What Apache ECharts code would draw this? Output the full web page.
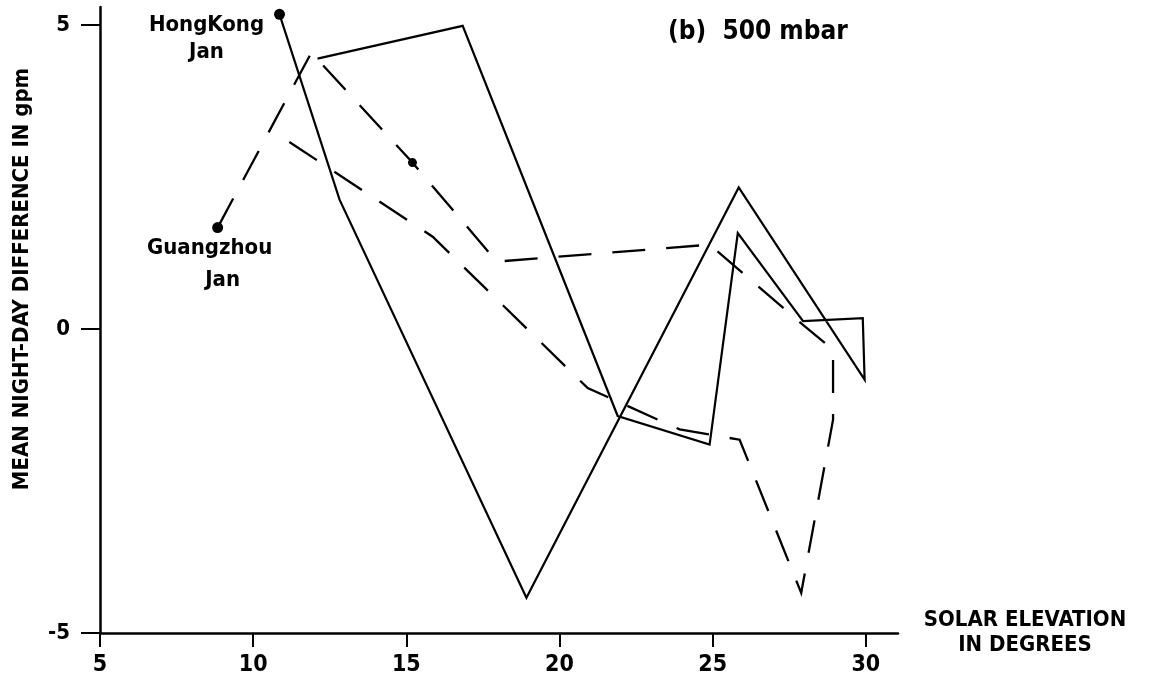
<!DOCTYPE html>
<html>
<head>
<meta charset="utf-8">
<script src="https://cdn.jsdelivr.net/npm/echarts@6/dist/echarts.min.js"></script>
<style>
  html, body { margin: 0; padding: 0; background: #ffffff; }
  #chart { width: 1149px; height: 679px; }
</style>
</head>
<body>
<div id="chart"></div>
<script>
// Axis ticks
const xTicks = [5, 10, 15, 20, 25, 30];
const yTicks = [-5, 0, 5];

// [solar elevation (deg), mean night-day difference (gpm)], in drawing order
const hongKongJan = [
  [10.86, 5.18], [12.82, 2.13], [18.92, -4.42], [25.85, 2.33], [29.96, -0.83],
  [29.90, 0.18], [27.95, 0.13], [25.82, 1.58], [24.90, -1.90], [21.90, -1.43],
  [16.84, 4.99], [12.10, 4.45]
];
const guangzhouJan = [
  [8.84, 1.67], [11.90, 4.55], [15.20, 2.74], [17.95, 1.11], [24.90, 1.39],
  [27.95, 0.07], [28.93, -0.34], [28.93, -1.49], [27.89, -4.34], [25.88, -1.82],
  [23.92, -1.65], [20.92, -0.97], [15.86, 1.52], [10.91, 3.17]
];
// small filled mark on the Guangzhou curve
const guangzhouMark = [[15.20, 2.74]];

const FONT = '"DejaVu Sans Condensed", "DejaVu Sans", sans-serif';
const INK = '#000000';

const chart = echarts.init(document.getElementById('chart'), null, { renderer: 'canvas' });

chart.setOption({
  backgroundColor: '#ffffff',
  animation: false,
  title: {
    text: '(b)  500 mbar',
    left: 668,
    top: 19,
    padding: 0,
    textStyle: { fontFamily: FONT, fontWeight: 'bold', fontSize: 26, color: INK }
  },
  grid: { left: 100, right: 251, top: 7, bottom: 46, containLabel: false, outerBoundsMode: 'none' },
  xAxis: {
    type: 'value',
    min: 5,
    max: 31.05,
    interval: 5,
    name: 'SOLAR ELEVATION\nIN DEGREES',
    nameLocation: 'end',
    nameGap: 127,
    nameTextStyle: {
      fontFamily: FONT, fontWeight: 'bold', fontSize: 22, color: INK,
      align: 'center', verticalAlign: 'middle', lineHeight: 25
    },
    splitLine: { show: false },
    axisLine: { show: true, onZero: false, lineStyle: { color: INK, width: 2.5 } },
    axisTick: { show: true, inside: false, length: 14, customValues: xTicks, lineStyle: { color: INK, width: 2 } },
    axisLabel: {
      customValues: xTicks,
      margin: 21,
      fontFamily: FONT, fontWeight: 'bold', fontSize: 23, color: INK
    }
  },
  yAxis: {
    type: 'value',
    min: -5,
    max: 5.3,
    interval: 5,
    name: 'MEAN NIGHT-DAY DIFFERENCE IN gpm',
    nameLocation: 'middle',
    nameRotate: 90,
    nameGap: 67,
    nameTextStyle: {
      fontFamily: FONT, fontWeight: 'bold', fontSize: 22, color: INK,
      padding: [0, 0, 0, 82]
    },
    splitLine: { show: false },
    axisLine: { show: true, onZero: false, lineStyle: { color: INK, width: 2.5 } },
    axisTick: { show: true, inside: false, length: 19, customValues: yTicks, lineStyle: { color: INK, width: 2 } },
    axisLabel: {
      customValues: yTicks,
      margin: 30,
      fontFamily: FONT, fontWeight: 'bold', fontSize: 22, color: INK
    }
  },
  series: [
    {
      name: 'HongKong Jan',
      type: 'line',
      data: hongKongJan,
      showSymbol: false,
      silent: true,
      lineStyle: { color: INK, width: 2.2, type: 'solid', join: 'miter' }
    },
    {
      name: 'Guangzhou Jan',
      type: 'line',
      data: guangzhouJan,
      showSymbol: false,
      silent: true,
      lineStyle: { color: INK, width: 2.3, type: [33, 21], join: 'miter' }
    },
    {
      name: 'Start points',
      type: 'scatter',
      silent: true,
      symbol: 'circle',
      symbolSize: 11,
      itemStyle: { color: INK, opacity: 1 },
      data: [
        {
          value: hongKongJan[0],
          label: {
            show: true, position: 'inside', offset: [-73, 24],
            formatter: 'HongKong\nJan', align: 'center', verticalAlign: 'middle',
            lineHeight: 27, fontFamily: FONT, fontWeight: 'bold', fontSize: 22, color: INK
          }
        },
        {
          value: guangzhouJan[0],
          label: {
            show: true, position: 'inside', offset: [-8, 37],
            formatter: '{a|Guangzhou}\n{b|Jan}', align: 'center', verticalAlign: 'middle',
            rich: {
              a: { fontFamily: FONT, fontWeight: 'bold', fontSize: 22, color: INK, lineHeight: 32 },
              b: { fontFamily: FONT, fontWeight: 'bold', fontSize: 22, color: INK, lineHeight: 32, padding: [0, 0, 0, 26] }
            }
          }
        }
      ]
    },
    {
      name: 'Mark',
      type: 'scatter',
      silent: true,
      symbol: 'circle',
      symbolSize: 9,
      itemStyle: { color: INK, opacity: 1 },
      data: guangzhouMark
    }
  ]
});
</script>
</body>
</html>
